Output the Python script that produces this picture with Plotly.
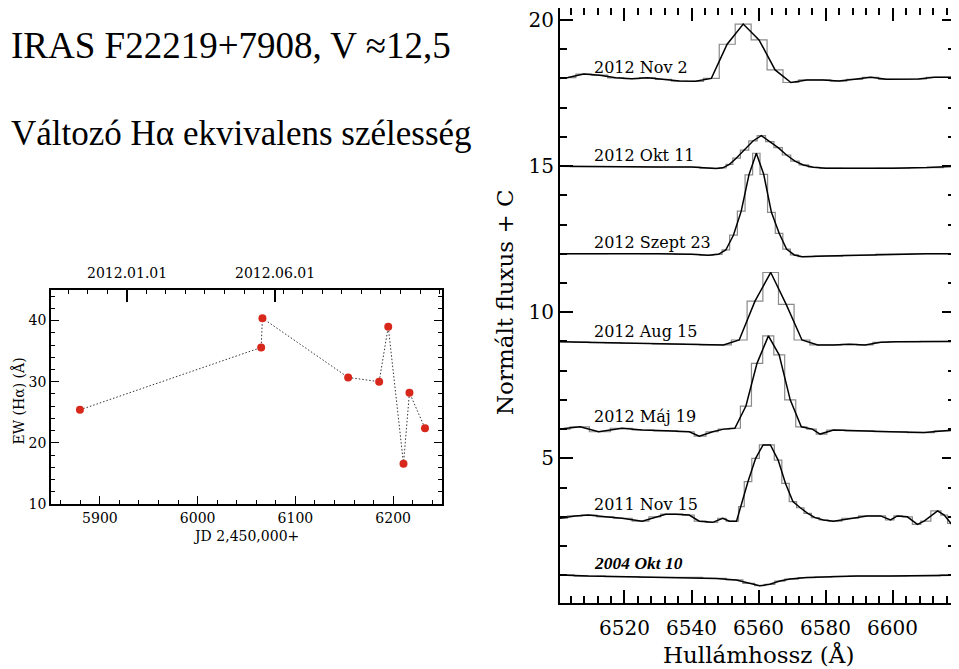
import plotly.graph_objects as go

# ---------------- Left panel: Halpha equivalent width vs JD ----------------
jd = [5879.6, 6065.0, 6066.3, 6154.0, 6185.7, 6195.0, 6210.6, 6216.7, 6232.6]
ew = [25.4, 35.6, 40.4, 30.7, 30.0, 39.0, 16.6, 28.2, 22.4]
date_tick_jd = [5927.5, 6079.5]
date_tick_text = ["2012.01.01", "2012.06.01"]

# ---------------- Right panel: spectra (wavelength, normalised flux + C) ----------------
wl_tick_vals = [6520, 6540, 6560, 6580, 6600]

wl_nov2 = [6498.4, 6503.15, 6507.9, 6512.65, 6517.4, 6522.15, 6526.9, 6531.65, 6536.4, 6541.15,
           6545.9, 6550.6, 6555.4, 6560.1, 6564.9, 6569.6, 6574.35, 6579.1, 6583.85, 6588.6,
           6593.35, 6598.1, 6602.85, 6607.6, 6612.35, 6617.1, 6621.85]
fx_nov2 = [17.98, 18.03, 18.15, 18.11, 18.02, 17.99, 18.02, 17.97, 17.91, 17.90,
           18.00, 19.17, 19.86, 19.32, 18.29, 17.86, 17.95, 17.95, 17.91, 17.97,
           18.04, 17.97, 17.97, 17.98, 18.04, 18.04, 18.00]

wl_okt11 = [6498.0, 6510.0, 6520.0, 6530.0, 6540.0, 6545.0, 6547.3, 6549.3, 6551.3, 6553.3,
            6555.8, 6558.3, 6560.8, 6563.3, 6565.8, 6568.3, 6570.8, 6573.3, 6576.3, 6580.0,
            6590.0, 6600.0, 6610.0, 6620.0]
fx_okt11 = [15.00, 14.98, 14.98, 14.97, 14.97, 14.93, 14.92, 14.94, 15.06, 15.27,
            15.55, 15.86, 16.04, 15.84, 15.63, 15.38, 15.17, 15.04, 14.96, 14.93,
            14.92, 14.93, 14.95, 15.00]

wl_szept23 = [6498.0, 6510.0, 6520.0, 6530.0, 6540.0, 6545.0, 6548.0, 6550.2, 6552.5, 6554.8,
              6557.1, 6559.3, 6561.5, 6563.8, 6566.1, 6568.3, 6570.6, 6573.0, 6580.0, 6590.0,
              6600.0, 6610.0, 6620.0]
fx_szept23 = [12.00, 12.00, 12.01, 12.00, 11.98, 11.95, 11.98, 12.13, 12.64, 13.46,
              14.70, 15.44, 14.72, 13.42, 12.70, 12.16, 11.96, 11.90, 11.92, 11.95,
              11.99, 12.00, 12.00]

wl_aug15 = [6497.8, 6502.5, 6507.2, 6511.9, 6516.6, 6521.3, 6526.0, 6530.7, 6535.4, 6540.1,
            6544.8, 6549.5, 6554.2, 6558.9, 6563.6, 6568.2, 6572.9, 6577.6, 6582.3, 6587.0,
            6591.7, 6596.4, 6601.1, 6605.8, 6610.5, 6615.2, 6619.9]
fx_aug15 = [9.00, 8.99, 8.98, 8.96, 8.95, 8.93, 8.93, 8.92, 8.91, 8.90,
            8.88, 8.88, 9.05, 10.38, 11.36, 10.27, 9.05, 8.88, 8.88, 8.90,
            8.88, 8.97, 8.99, 8.99, 9.00, 9.00, 9.00]

wl_maj19 = [6498.0, 6500.8, 6506.8, 6512.3, 6519.3, 6525.3, 6532.3, 6539.3, 6542.3, 6546.3,
            6549.6, 6552.9, 6556.2, 6559.5, 6562.9, 6566.1, 6569.4, 6572.7, 6576.0, 6578.3,
            6582.3, 6589.3, 6599.3, 6609.3, 6615.3, 6618.8, 6621.0]
fx_maj19 = [6.00, 6.00, 6.08, 5.91, 6.03, 5.97, 5.94, 5.91, 5.76, 5.91,
            6.00, 6.03, 6.79, 8.25, 9.19, 8.54, 7.00, 6.08, 6.00, 5.83,
            5.97, 5.94, 5.91, 5.88, 5.94, 6.00, 6.00]

wl_nov15 = [6498.0, 6500.8, 6505.3, 6509.3, 6514.3, 6519.3, 6525.3, 6529.3, 6532.3, 6535.3,
            6539.3, 6542.3, 6546.3, 6549.3, 6551.3, 6553.4, 6554.6, 6556.8, 6559.1, 6561.3,
            6563.5, 6565.8, 6568.0, 6570.2, 6572.4, 6574.6, 6576.8, 6579.3, 6582.3, 6587.3,
            6592.3, 6596.3, 6599.3, 6601.3, 6604.3, 6607.3, 6609.3, 6613.3, 6615.3, 6617.3,
            6618.8, 6621.0]
fx_nov15 = [2.95, 2.95, 3.03, 3.06, 3.00, 2.95, 2.85, 3.00, 3.09, 3.09,
            3.06, 2.85, 2.81, 2.95, 2.85, 2.85, 3.35, 4.20, 5.00, 5.46,
            5.46, 4.94, 4.14, 3.52, 3.31, 3.12, 2.97, 2.89, 2.85, 2.95,
            3.03, 3.03, 2.89, 3.03, 3.00, 2.74, 2.85, 3.20, 3.06, 2.77,
            3.00, 3.05]

wl_2004 = [6498.0, 6500.8, 6509.3, 6519.3, 6529.3, 6539.3, 6547.3, 6553.3, 6557.3, 6560.3,
           6563.3, 6566.3, 6569.3, 6574.3, 6579.3, 6584.3, 6589.3, 6599.3, 6609.3, 6618.8,
           6621.0]
fx_2004 = [1.01, 1.01, 0.97, 0.95, 0.93, 0.93, 0.89, 0.84, 0.72, 0.64,
           0.69, 0.80, 0.87, 0.92, 0.94, 0.96, 0.97, 0.97, 0.98, 1.01,
           1.01]

spectra_wl = [wl_nov2, wl_okt11, wl_szept23, wl_aug15, wl_maj19, wl_nov15, wl_2004]
spectra_fx = [fx_nov2, fx_okt11, fx_szept23, fx_aug15, fx_maj19, fx_nov15, fx_2004]
spectra_labels = ["2012 Nov 2", "2012 Okt 11", "2012 Szept 23", "2012 Aug 15",
                  "2012 Máj 19", "2011 Nov 15", "2004 Okt 10"]
label_level = [18.36, 15.36, 12.39, 9.35, 6.42, 3.41, 1.43]

W, H = 959, 669
OFF = 8  # page body margin: figure origin sits at (8, 8) in the window


def px(x):
    return (x - OFF) / W


def py(y):
    return 1 - (y - OFF) / H


SERIF = "DejaVu Serif"
fig = go.Figure()

for wl, fx in zip(spectra_wl, spectra_fx):
    fig.add_trace(go.Scatter(x=wl, y=fx, mode="lines", line=dict(shape="hvh", color="#8a8a8a", width=1.2),
                             xaxis="x", yaxis="y", showlegend=False, hoverinfo="skip"))
    fig.add_trace(go.Scatter(x=wl, y=fx, mode="lines", line=dict(color="black", width=1.5),
                             xaxis="x", yaxis="y", showlegend=False))

fig.add_trace(go.Scatter(x=jd, y=ew, mode="lines+markers",
                         line=dict(color="#333333", width=1, dash="1.5px,2px"),
                         marker=dict(color="#d8281c", size=8),
                         xaxis="x2", yaxis="y2", showlegend=False))
# invisible companion so the top (calendar) axis of the left panel is rendered
fig.add_trace(go.Scatter(x=jd, y=ew, mode="lines", line=dict(width=0, color="rgba(0,0,0,0)"),
                         xaxis="x3", yaxis="y2", showlegend=False, hoverinfo="skip"))

for text, lvl in zip(spectra_labels, label_level):
    if text.startswith("2004"):
        font = dict(family="Liberation Serif", size=17.5, color="black", weight="bold", style="italic")
    else:
        font = dict(family=SERIF, size=16, color="black")
    fig.add_annotation(x=6510.2, y=lvl, xref="x", yref="y", text=text, showarrow=False,
                       xanchor="left", yanchor="middle", font=font)

for v in wl_tick_vals:
    fig.add_annotation(x=v, y=py(628), xref="x", yref="paper", text=str(v), showarrow=False,
                       xanchor="center", yanchor="middle",
                       font=dict(family=SERIF, size=20, color="black"))

for v, t in zip(date_tick_jd, date_tick_text):
    fig.add_annotation(x=v, y=py(273), xref="x2", yref="paper", text=t, showarrow=False,
                       xanchor="center", yanchor="middle",
                       font=dict(family=SERIF, size=14, color="black"))

annots = [
    dict(text="IRAS F22219+7908, V ≈12,5", x=px(9), y=py(45), xanchor="left", yanchor="middle",
         font=dict(family="Liberation Serif", size=37, color="black")),
    dict(text="Változó Hα ekvivalens szélesség", x=px(9), y=py(133), xanchor="left", yanchor="middle",
         font=dict(family="Liberation Serif", size=35, color="black")),
    dict(text="Normált fluxus + C", x=px(505), y=py(302), textangle=-90, xanchor="center", yanchor="middle",
         font=dict(family=SERIF, size=23, color="black")),
    dict(text="Hullámhossz (Å)", x=px(758), y=py(654), xanchor="center", yanchor="middle",
         font=dict(family=SERIF, size=23, color="black")),
    dict(text="EW (Hα) (Å)", x=px(17.5), y=py(401), textangle=-90, xanchor="center", yanchor="middle",
         font=dict(family=SERIF, size=14, color="black")),
    dict(text="JD 2,450,000+", x=px(246), y=py(536), xanchor="center", yanchor="middle",
         font=dict(family=SERIF, size=14, color="black")),
]
for a in annots:
    fig.add_annotation(xref="paper", yref="paper", showarrow=False, **a)

fig.update_layout(
    width=W, height=H, margin=dict(l=0, r=0, t=0, b=0, autoexpand=False),
    paper_bgcolor="white", plot_bgcolor="white",
    xaxis=dict(domain=[px(560), px(955)], range=[6500.8, 6618.5], anchor="y",
               showgrid=False, zeroline=False, showline=True, linecolor="black", linewidth=2,
               mirror="ticks", ticks="inside", ticklen=13, tickwidth=2, tickcolor="black",
               tick0=6520, dtick=20, showticklabels=False,
               minor=dict(dtick=4, ticks="inside", ticklen=7, tickwidth=1.5, tickcolor="black")),
    yaxis=dict(domain=[py(603), 1.0], range=[0.05, 20.41], anchor="x",
               showgrid=False, zeroline=False, showline=True, linecolor="black", linewidth=2,
               mirror="ticks", ticks="inside", ticklen=13, tickwidth=2, tickcolor="black",
               tick0=0, dtick=5, ticklabeloverflow="allow",
               tickfont=dict(family=SERIF, size=20, color="black"),
               minor=dict(dtick=1, ticks="inside", ticklen=7, tickwidth=1.5, tickcolor="black")),
    xaxis2=dict(domain=[px(51), px(442)], range=[5850, 6250], anchor="y2",
                showgrid=False, zeroline=False, showline=True, linecolor="black", linewidth=1.5,
                mirror=True, ticks="inside", ticklen=8, tickwidth=1.2, tickcolor="black",
                tick0=5900, dtick=100, ticklabeloverflow="allow",
                tickfont=dict(family=SERIF, size=14, color="black"),
                minor=dict(dtick=20, ticks="inside", ticklen=4, tickwidth=1, tickcolor="black")),
    xaxis3=dict(overlaying="x2", side="top", anchor="y2", range=[5850, 6250],
                showgrid=False, zeroline=False, showline=False, showticklabels=False,
                tickmode="array", tickvals=date_tick_jd,
                ticks="inside", ticklen=12, tickwidth=1.5, tickcolor="black",
                minor=dict(tickmode="linear", tick0=5927.5, dtick=20, ticks="inside", ticklen=4,
                           tickwidth=1, tickcolor="black")),
    yaxis2=dict(domain=[py(504), py(290)], range=[10, 45], anchor="x2",
                showgrid=False, zeroline=False, showline=True, linecolor="black", linewidth=1.5,
                mirror="ticks", ticks="inside", ticklen=8, tickwidth=1.2, tickcolor="black",
                tick0=10, dtick=10, ticklabeloverflow="allow",
                tickfont=dict(family=SERIF, size=14, color="black"),
                minor=dict(dtick=2, ticks="inside", ticklen=4, tickwidth=1, tickcolor="black")),
)

fig.write_html("out.html")
